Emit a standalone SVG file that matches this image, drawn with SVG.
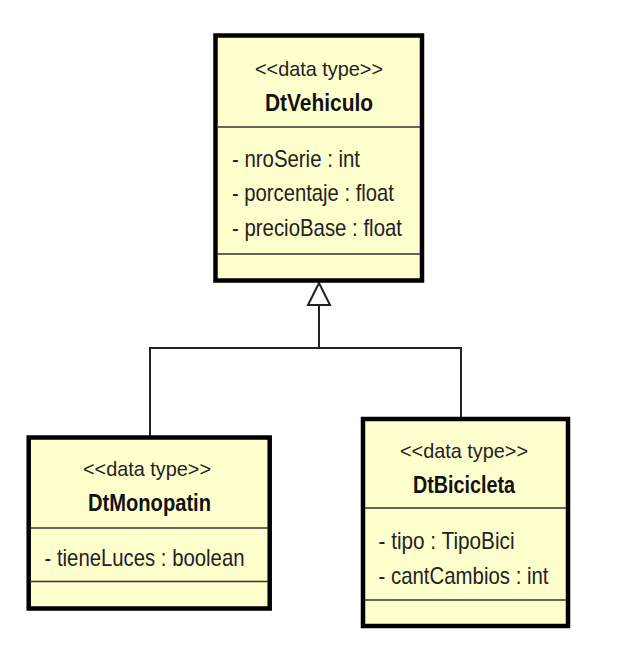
<svg xmlns="http://www.w3.org/2000/svg" width="638" height="659" viewBox="0 0 638 659">
<style>
.box{fill:#FFFFCE;stroke:#000;stroke-width:4.5}
.div{stroke:#333;stroke-width:1.5}
.st{font-family:"Liberation Sans",Arial,sans-serif;font-size:21px;fill:#222}
.nm{font-family:"Liberation Sans",Arial,sans-serif;font-size:24px;font-weight:bold;fill:#111}
.at{font-family:"Liberation Sans",Arial,sans-serif;font-size:24px;fill:#222}
.ln{fill:none;stroke:#222;stroke-width:2}
</style>
<rect width="638" height="659" fill="#fff"/>
<g id="connectors">
<polyline class="ln" points="150,437 150,348 461,348 461,419"/>
<line class="ln" x1="319" y1="348" x2="319" y2="305"/>
<polygon points="319,283 308,305 330,305" fill="#fff" stroke="#222" stroke-width="2"/>
</g>
<g id="DtVehiculo">
<rect class="box" x="215.5" y="35.5" width="206.5" height="245"/>
<line class="div" x1="217" y1="127" x2="420" y2="127"/>
<line class="div" x1="217" y1="254" x2="420" y2="254"/>
<text class="st" x="255" y="76" textLength="128" lengthAdjust="spacingAndGlyphs">&lt;&lt;data type&gt;&gt;</text>
<text class="nm" x="265" y="111" textLength="108" lengthAdjust="spacingAndGlyphs">DtVehiculo</text>
<text class="at" x="232" y="167" textLength="128" lengthAdjust="spacingAndGlyphs">- nroSerie : int</text>
<text class="at" x="232" y="201" textLength="162" lengthAdjust="spacingAndGlyphs">- porcentaje : float</text>
<text class="at" x="232" y="236" textLength="170" lengthAdjust="spacingAndGlyphs">- precioBase : float</text>
</g>
<g id="DtMonopatin">
<rect class="box" x="28.7" y="437.5" width="241" height="171"/>
<line class="div" x1="30" y1="528" x2="268" y2="528"/>
<line class="div" x1="30" y1="581.5" x2="268" y2="581.5"/>
<text class="st" x="83" y="476" textLength="128" lengthAdjust="spacingAndGlyphs">&lt;&lt;data type&gt;&gt;</text>
<text class="nm" x="88" y="511" textLength="123" lengthAdjust="spacingAndGlyphs">DtMonopatin</text>
<text class="at" x="44.5" y="566" textLength="200" lengthAdjust="spacingAndGlyphs">- tieneLuces : boolean</text>
</g>
<g id="DtBicicleta">
<rect class="box" x="363" y="419" width="205" height="207"/>
<line class="div" x1="365" y1="508" x2="566" y2="508"/>
<line class="div" x1="365" y1="600" x2="566" y2="600"/>
<text class="st" x="400" y="458" textLength="128" lengthAdjust="spacingAndGlyphs">&lt;&lt;data type&gt;&gt;</text>
<text class="nm" x="413" y="493" textLength="102" lengthAdjust="spacingAndGlyphs">DtBicicleta</text>
<text class="at" x="378.5" y="549" textLength="136" lengthAdjust="spacingAndGlyphs">- tipo : TipoBici</text>
<text class="at" x="378.5" y="584" textLength="170" lengthAdjust="spacingAndGlyphs">- cantCambios : int</text>
</g>
</svg>
